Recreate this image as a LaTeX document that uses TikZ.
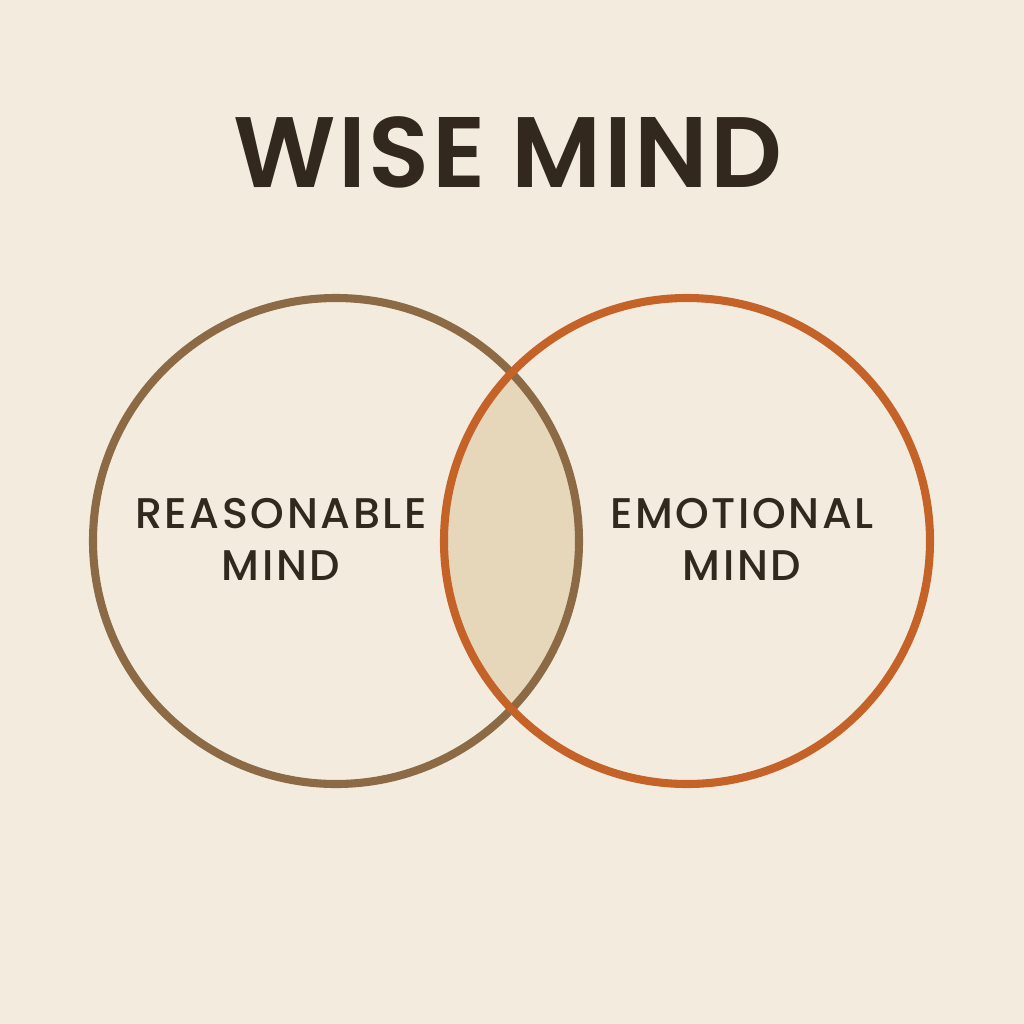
\documentclass[tikz,border=0pt]{standalone}
\usepackage{fontspec}
\setmainfont{Poppins}
\newfontfamily\titlefont[LetterSpace=2.5]{Poppins SemiBold}
\newfontfamily\labelfont[LetterSpace=6]{Poppins Medium}
\definecolor{Paper}{RGB}{243,236,222}
\definecolor{ReasonBrown}{RGB}{140,106,70}
\definecolor{EmotionOrange}{RGB}{196,98,40}
\definecolor{LensTan}{RGB}{230,214,186}
\definecolor{Ink}{RGB}{50,40,30}

\begin{document}
\begin{tikzpicture}[
    ring/.style={line width=2.3pt},
    mindlabel/.style={text=Ink,align=center,font=\labelfont\fontsize{12.2}{14.8}\selectfont}
  ]
  \fill[Paper] (0,0) rectangle (10.24,-10.24);
  \coordinate (rc) at (3.36,-5.41);
  \coordinate (ec) at (6.87,-5.41);
  % the shared part
  \begin{scope}
    \clip (rc) circle (2.43);
    \fill[LensTan] (ec) circle (2.43);
  \end{scope}
  \draw[ring,ReasonBrown] (rc) circle (2.43);
  \draw[ring,EmotionOrange] (ec) circle (2.43);
  \node[text=Ink,font=\titlefont\fontsize{28.5}{30}\selectfont] (title) at (5.08,-1.52) {WISE MIND};
  \node[mindlabel] (reason) at (2.81,-5.39) {REASONABLE\\MIND};
  \node[mindlabel] (emotion) at (7.42,-5.39) {EMOTIONAL\\MIND};
\end{tikzpicture}
\end{document}
